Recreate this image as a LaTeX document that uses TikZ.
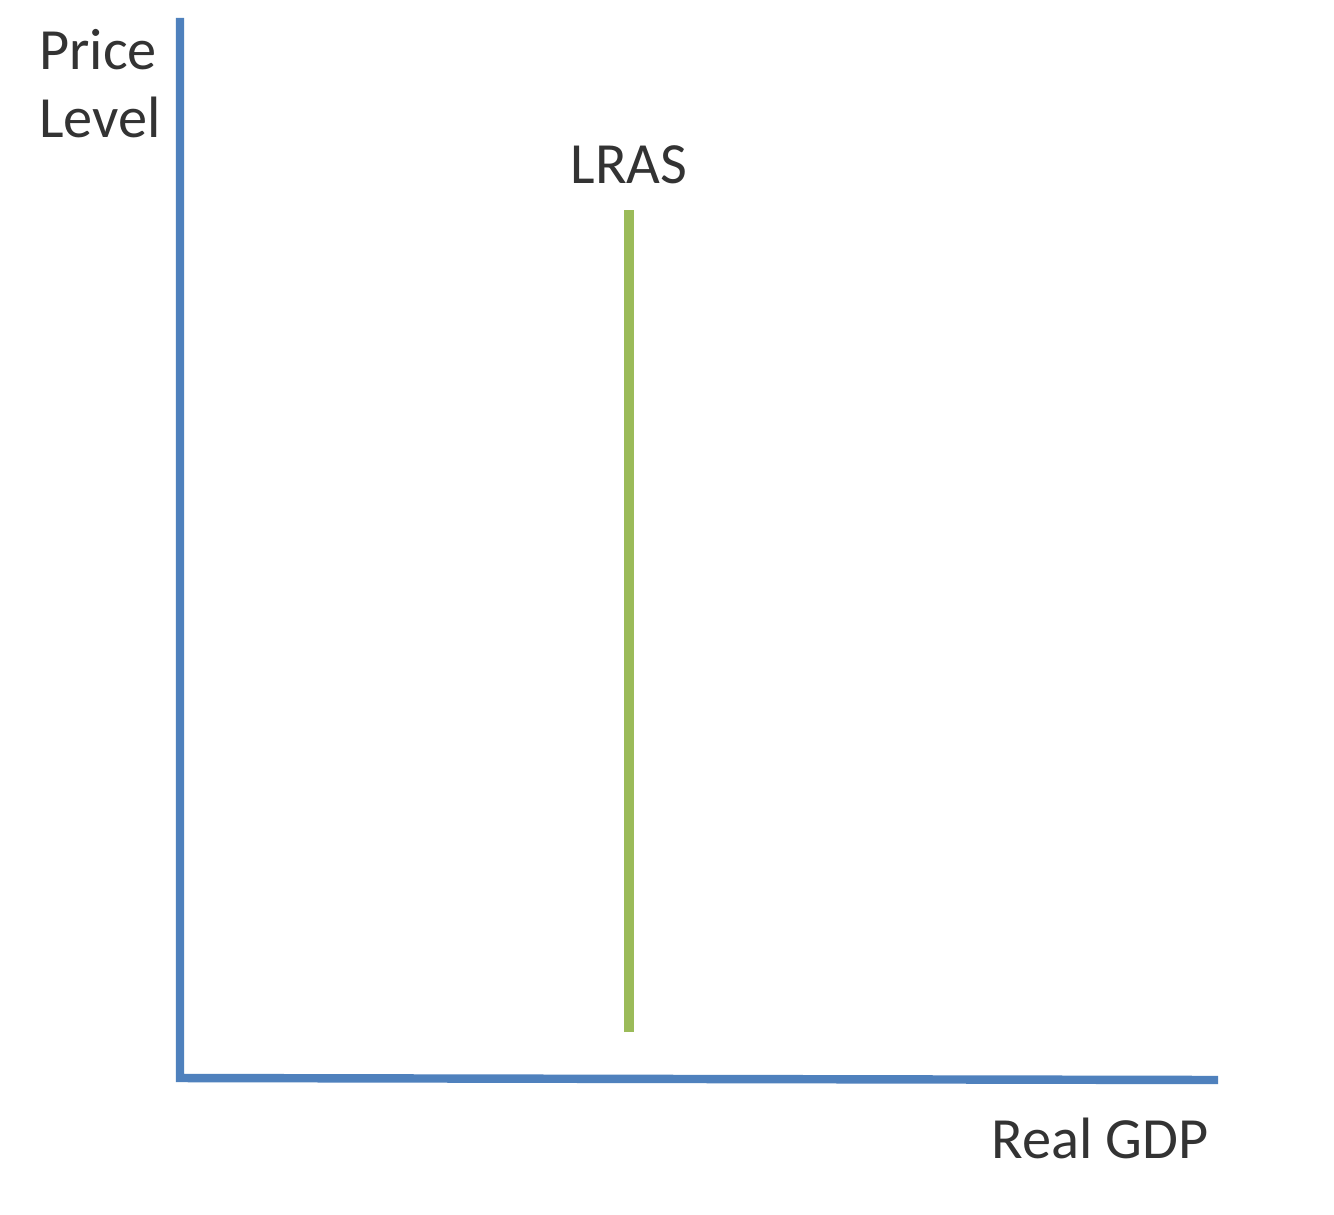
\documentclass[tikz,border=0pt]{standalone}
\usepackage{fontspec}
\setmainfont{Carlito}
\usepackage{tikz}
\usetikzlibrary{positioning}
\definecolor{axisblue}{RGB}{79,129,189}
\definecolor{curvegreen}{RGB}{155,187,89}
\tikzset{%
	axis line/.style={
		draw=axisblue,
		line width=2.4pt
	},
	curve line/.style={
		draw=curvegreen,
		line width=2.6pt
	},
	axis label/.style={
		font=\fontsize{16.6}{19.3}\selectfont,
		text=black!80,
		inner sep=0pt
	},
}
\begin{document}
\begin{tikzpicture}
			\useasboundingbox[fill=white] (0,0) rectangle (13.34,12.14);
			
			% Axis end points
			\coordinate (origin) at (1.80,1.36);
			\coordinate (ytop) at (1.80,11.96);
			\coordinate (xend) at (12.18,1.34);
			
			% Draw the axes
			\draw[axis line] (ytop) -- (origin) -- (xend);
			
			% Axis labels
			\node[axis label, align=left] (pricelevel) at (1.00,11.30) {Price\\Level};
			\node[axis label] (realgdp) at (11.00,0.76) {Real GDP};
			
			% Draw the long run aggregate supply curve
			\coordinate (lrasbot) at (6.29,1.82);
			\coordinate (lrastop) at (6.29,10.04);
			\draw[curve line] (lrasbot) -- (lrastop);
			\node[axis label] (lras) at (6.29,10.49) {LRAS};
			
		\end{tikzpicture}
\end{document}
